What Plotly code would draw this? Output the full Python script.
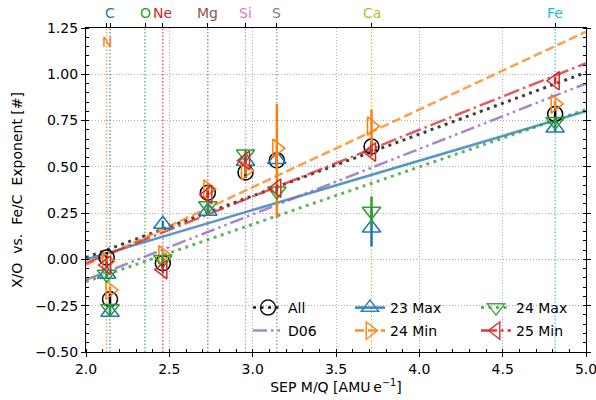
import plotly.graph_objects as go

# ---------------- data ----------------
elements = ["C", "N", "O", "Ne", "Mg", "Si", "S", "Ca", "Fe"]
element_mq = [2.144, 2.124, 2.354, 2.461, 2.731, 2.957, 3.145, 3.713, 4.815]
element_colors = ["#1f77b4", "#ff7f0e", "#2ca02c", "#d62728", "#8c564b",
                  "#e377c2", "#7f7f7f", "#bcbd22", "#17becf"]

species = ["N", "C", "Ne", "Mg", "Si", "S", "Ca", "Fe"]
species_mq = [2.124, 2.144, 2.461, 2.731, 2.957, 3.145, 3.713, 4.815]

all_vals = [0.01, -0.215, -0.02, 0.36, 0.47, 0.535, 0.61, 0.785]
all_err = [0.03, 0.03, 0.03, 0.03, 0.03, 0.03, 0.03, 0.03]

max23_vals = [-0.08, -0.285, 0.19, 0.26, 0.53, 0.54, 0.17, 0.71]
max23_err = [0.02, 0.02, 0.02, 0.02, 0.02, 0.02, 0.10, 0.02]

min24_vals = [-0.01, -0.165, 0.025, 0.38, 0.48, 0.60, 0.72, 0.84]
min24_err_plus = [0.02, 0.02, 0.02, 0.02, 0.02, 0.24, 0.09, 0.02]
min24_err_minus = [0.02, 0.02, 0.02, 0.02, 0.02, 0.375, 0.165, 0.02]

max24_vals = [-0.08, -0.265, 0.0, 0.29, 0.57, 0.37, 0.26, 0.745]
max24_err = [0.02, 0.02, 0.02, 0.02, 0.02, 0.02, 0.08, 0.02]

min25_vals = [-0.03, None, -0.055, 0.35, 0.535, 0.385, 0.58, 0.965]
min25_err = [0.02, 0.02, 0.02, 0.02, 0.02, 0.02, 0.02, 0.02]

fit_x = [2.0, 5.0]
fit_all = [0.01, 1.01]
fit_23max = [0.0, 0.80]
fit_24min = [-0.03, 1.23]
fit_24max = [-0.12, 0.81]
fit_25min = [-0.02, 1.06]
fit_d06 = [-0.11, 0.95]

x_range = [2.0, 5.0]
y_range = [-0.5, 1.25]

FONT = "DejaVu Sans"
fig = go.Figure()

# element vertical lines
for name, mq, col in zip(elements, element_mq, element_colors):
    fig.add_trace(go.Scatter(x=[mq, mq], y=y_range, mode="lines",
                             line=dict(color=col, width=1.2, dash="1.5px,2px"),
                             showlegend=False, hoverinfo="skip", opacity=0.85))

# series definitions
series = [
    dict(name="All", vals=all_vals, ep=all_err, em=all_err, fit=fit_all,
         color="#000000", symbol="circle-open", size=15,
         dash="3px,4.5px", legend="legend"),
    dict(name="23 Max", vals=max23_vals, ep=max23_err, em=max23_err, fit=fit_23max,
         color="#1f77b4", symbol="triangle-up-open", size=16,
         dash="solid", legend="legend3"),
    dict(name="24 Min", vals=min24_vals, ep=min24_err_plus, em=min24_err_minus, fit=fit_24min,
         color="#ff7f0e", symbol="triangle-right-open", size=16,
         dash="9px,4px", legend="legend4"),
    dict(name="24 Max", vals=max24_vals, ep=max24_err, em=max24_err, fit=fit_24max,
         color="#2ca02c", symbol="triangle-down-open", size=16,
         dash="3px,4.5px", legend="legend5"),
    dict(name="25 Min", vals=min25_vals, ep=min25_err, em=min25_err, fit=fit_25min,
         color="#d62728", symbol="triangle-left-open", size=16,
         dash="16px,4px,2.5px,4px", legend="legend6"),
]

# fit lines
for s in series:
    fig.add_trace(go.Scatter(x=fit_x, y=s["fit"], mode="lines",
                             line=dict(color=s["color"], width=3 if s["name"] in ("All", "24 Max") else 2.5,
                                       dash=s["dash"]),
                             opacity=0.75, showlegend=False, hoverinfo="skip"))
fig.add_trace(go.Scatter(x=fit_x, y=fit_d06, mode="lines",
                         line=dict(color="#9467bd", width=2.5,
                                   dash="14px,4px,2.5px,4px,2.5px,4px"),
                         opacity=0.8, showlegend=False, hoverinfo="skip"))

# data points
for s in series:
    fig.add_trace(go.Scatter(
        x=species_mq, y=s["vals"], mode="markers",
        marker=dict(symbol=s["symbol"], size=s["size"], color=s["color"],
                    line=dict(width=1.5, color=s["color"])),
        error_y=dict(type="data", array=s["ep"], arrayminus=s["em"],
                     symmetric=False, color=s["color"], thickness=2.5, width=0),
        showlegend=False))

# legend entries (one legend per entry to reproduce the 3x2 grid)
for s in series:
    fig.add_trace(go.Scatter(
        x=[None], y=[None], mode="lines+markers", name=s["name"],
        line=dict(color=s["color"], width=2.5, dash=s["dash"]),
        marker=dict(symbol=s["symbol"], size=15, color=s["color"],
                    line=dict(width=1.5, color=s["color"])),
        opacity=0.9, legend=s["legend"]))
fig.add_trace(go.Scatter(
    x=[None], y=[None], mode="lines", name="D06",
    line=dict(color="#9467bd", width=2.5, dash="14px,4px,2.5px,4px,2.5px,4px"),
    opacity=0.8, legend="legend2"))

# invisible trace for top axis
fig.add_trace(go.Scatter(x=[None], y=[None], xaxis="x2", showlegend=False))

# element labels
annotations = []
for name, mq, col in zip(elements, element_mq, element_colors):
    if name == "N":
        annotations.append(dict(x=mq, y=1, xref="x", yref="paper", text=name,
                                showarrow=False, yanchor="top", yshift=-4,
                                font=dict(family=FONT, size=14, color=col)))
    else:
        annotations.append(dict(x=mq, y=1, xref="x", yref="paper", text=name,
                                showarrow=False, yanchor="bottom", yshift=5,
                                font=dict(family=FONT, size=14, color=col)))

W, H = 596, 400
ml, mr, mt, mb = 86, 10, 28, 48
pw, ph = W - ml - mr, H - mt - mb


def lx(px):
    return (px - ml) / pw


def ly(py):
    return (H - mb - py) / ph


leg_common = dict(bgcolor="rgba(0,0,0,0)", borderwidth=0,
                  font=dict(family=FONT, size=14, color="#000"),
                  xanchor="left", yanchor="middle", itemwidth=30)
col_x = [248, 350, 476]
row_y = [308, 331]

layout_legends = {
    "legend": dict(x=lx(col_x[0]), y=ly(row_y[0]), **leg_common),
    "legend2": dict(x=lx(col_x[0]), y=ly(row_y[1]), **leg_common),
    "legend3": dict(x=lx(col_x[1]), y=ly(row_y[0]), **leg_common),
    "legend4": dict(x=lx(col_x[1]), y=ly(row_y[1]), **leg_common),
    "legend5": dict(x=lx(col_x[2]), y=ly(row_y[0]), **leg_common),
    "legend6": dict(x=lx(col_x[2]), y=ly(row_y[1]), **leg_common),
}

fig.update_layout(
    width=W, height=H,
    margin=dict(l=ml, r=mr, t=mt, b=mb),
    paper_bgcolor="white", plot_bgcolor="white",
    font=dict(family=FONT, size=14, color="#000"),
    annotations=annotations,
    xaxis=dict(range=x_range, dtick=0.5, tick0=2.0, tickformat=".1f",
               showline=True, linecolor="black", linewidth=1.3, mirror=True,
               ticks="outside", ticklen=4, tickwidth=1.2, tickcolor="black",
               ticklabeloverflow="allow",
               minor=dict(dtick=0.1, ticks="inside", ticklen=3, tickcolor="black",
                          showgrid=False),
               showgrid=True, gridcolor="#b0b0b0", griddash="1px,2px", gridwidth=1,
               zeroline=False, automargin=False,
               title=dict(text="SEP M/Q [AMU\u2009e<sup>\u22121</sup>]",
                          font=dict(family=FONT, size=14), standoff=4)),
    xaxis2=dict(range=x_range, overlaying="x", side="top", anchor="y",
                tickvals=element_mq, showticklabels=False, ticks="outside",
                ticklen=4, tickwidth=1.2, tickcolor="black", showgrid=False,
                showline=False, zeroline=False),
    yaxis=dict(range=y_range, dtick=0.25, tick0=0, tickformat=".2f",
               showline=True, linecolor="black", linewidth=1.3, mirror="ticks",
               ticks="outside", ticklen=4, tickwidth=1.2, tickcolor="black",
               ticklabeloverflow="allow",
               minor=dict(dtick=0.05, ticks="inside", ticklen=3, tickcolor="black",
                          showgrid=False),
               showgrid=True, gridcolor="#b0b0b0", griddash="1px,2px", gridwidth=1,
               zeroline=False, automargin=False,
               title=dict(text="X/O\u00a0\u00a0vs.\u00a0\u00a0Fe/C\u00a0\u00a0Exponent [#]",
                          font=dict(family=FONT, size=14), standoff=9)),
    **layout_legends,
)

fig.write_html("out.html", config={"displayModeBar": False},
               post_script="document.body.style.margin='0';")
